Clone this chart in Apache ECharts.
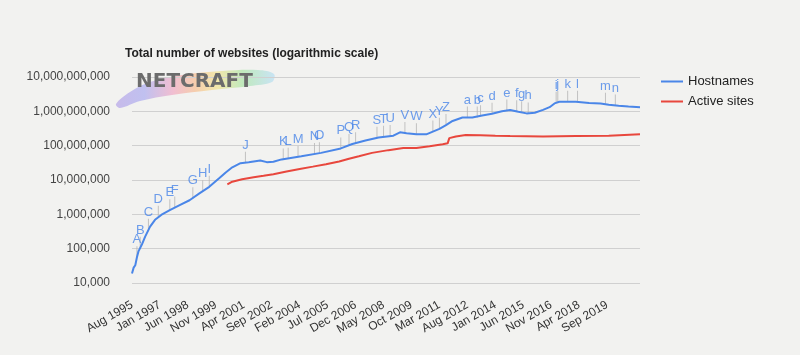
<!DOCTYPE html>
<html>
<head>
<meta charset="utf-8">
<script src="https://cdn.jsdelivr.net/npm/echarts@6/dist/echarts.min.js"></script>
<style>
html,body{margin:0;padding:0;background:#f2f2f0;}
#chart{width:800px;height:355px;}
</style>
</head>
<body>
<div id="chart"></div>
<script>
// ---- data ----
const monthNames = ['Jan','Feb','Mar','Apr','May','Jun','Jul','Aug','Sep','Oct','Nov','Dec'];
const firstMonth = 'Aug 1995';
const lastMonth = 'May 2021';
const lastTickLabel = 'Sep 2019';

const hostDates = ['Aug 1995','Sep 1995','Oct 1995','Nov 1995','Dec 1995','Feb 1996','Apr 1996','Jul 1996','Oct 1996','Feb 1997','Jul 1997','Jan 1998','Jul 1998','Jan 1999','Jul 1999','Jan 2000','May 2000','Sep 2000','Feb 2001','Jul 2001','Feb 2002','Jun 2002','Oct 2002','Mar 2003','Mar 2004','Mar 2005','Mar 2006','Oct 2006','Jun 2007','Feb 2008','Nov 2008','Mar 2009','Jul 2009','Jan 2010','Jul 2010','Nov 2010','Mar 2011','Jul 2011','Nov 2011','May 2012','Nov 2012','May 2013','Nov 2013','May 2014','Oct 2014','Mar 2015','Aug 2015','Jan 2016','Jun 2016','Oct 2016','Jan 2017','Apr 2017','Feb 2018','Oct 2018','May 2019','Oct 2019','Apr 2020','Oct 2020','May 2021'];
const hostValues = [19000,28000,33000,56000,85000,132000,224000,437000,692000,977000,1320000,1860000,2570000,4070000,6310000,11200000,16600000,23400000,30900000,33100000,37200000,33100000,33900000,39800000,49000000,61700000,83200000,112000000,141000000,174000000,195000000,245000000,229000000,214000000,214000000,257000000,309000000,398000000,525000000,661000000,661000000,759000000,851000000,1000000000,1100000000,977000000,871000000,912000000,1100000000,1320000000,1700000000,1900000000,1900000000,1740000000,1700000000,1550000000,1450000000,1380000000,1320000000];

const activeDates = ['Jun 2000','Sep 2000','Mar 2001','Oct 2001','Apr 2002','Oct 2002','Jun 2003','Feb 2004','Oct 2004','Jun 2005','Feb 2006','Aug 2006','Feb 2007','Oct 2007','Aug 2008','May 2009','Jan 2010','Sep 2010','May 2011','Aug 2011','Sep 2011','Jan 2012','Jul 2012','Apr 2013','Jan 2014','Oct 2014','Jun 2016','Feb 2018','Oct 2019','May 2021'];
const activeValues = [7400000,8900000,10500000,12000000,13200000,14800000,17800000,20900000,24500000,28800000,34700000,41700000,49000000,61700000,74100000,85100000,85100000,95500000,110000000,117000000,166000000,186000000,204000000,200000000,195000000,191000000,186000000,191000000,195000000,214000000];

const noteLetters = ['A','B','C','D','E','F','G','H','I','J','K','L','M','N','O','P','Q','R','S','T','U','V','W','X','Y','Z','a','b','c','d','e','f','g','h','i','j','k','l','m','n'];
const noteDates = ['Nov 1995','Jan 1996','Jun 1996','Dec 1996','Jul 1997','Oct 1997','Sep 1998','Mar 1999','Jul 1999','May 2001','Apr 2003','Jul 2003','Jan 2004','Nov 2004','Feb 2005','Mar 2006','Aug 2006','Dec 2006','Jan 2008','May 2008','Sep 2008','Jun 2009','Jan 2010','Nov 2010','Mar 2011','Jul 2011','Aug 2012','Feb 2013','Apr 2013','Nov 2013','Aug 2014','Feb 2015','May 2015','Sep 2015','Feb 2017','Mar 2017','Sep 2017','Mar 2018','Aug 2019','Feb 2020'];
const noteValues = [56000,107000,355000,851000,1320000,1580000,2950000,4680000,6310000,31600000,39800000,41700000,46800000,57500000,60300000,83200000,105000000,117000000,170000000,182000000,191000000,234000000,214000000,257000000,309000000,398000000,661000000,661000000,724000000,851000000,1050000000,1000000000,933000000,871000000,1780000000,1860000000,1900000000,1900000000,1660000000,1480000000];

const yTickValues = [10000,100000,1000000,10000000,100000000,1000000000,10000000000];

// monthly category axis
function buildMonths(first, last){
  const [fm, fy] = first.split(' ');
  const [lm, ly] = last.split(' ');
  let m = monthNames.indexOf(fm), y = +fy;
  const endM = monthNames.indexOf(lm), endY = +ly;
  const out = [];
  while (y < endY || (y === endY && m <= endM)) {
    out.push(monthNames[m] + ' ' + y);
    m++; if (m > 11) { m = 0; y++; }
  }
  return out;
}
const months = buildMonths(firstMonth, lastMonth);
const lastTickIdx = months.indexOf(lastTickLabel);

const BLUE = '#4a86e8';
const RED = '#e8473d';

const chart = echarts.init(document.getElementById('chart'));
chart.setOption({
  animation: false,
  backgroundColor: '#f2f2f0',
  textStyle: { fontFamily: 'Liberation Sans, Arial, sans-serif' },
  title: {
    text: 'Total number of websites (logarithmic scale)',
    left: 120, top: 43,
    textStyle: { fontSize: 12, fontWeight: 'bold', color: '#222', fontFamily: 'Liberation Sans, Arial, sans-serif' }
  },
  legend: {
    orient: 'vertical',
    left: 656, top: 70,
    itemGap: 7,
    icon: 'rect',
    itemWidth: 22, itemHeight: 2,
    textStyle: { fontSize: 13, color: '#222' },
    data: ['Hostnames', 'Active sites']
  },
  graphic: [
    {
      type: 'polygon', z: 0, silent: true,
      shape: {
        smooth: 0.35,
        points: [[116,104],[130,92],[150,82],[182,75],[222,71],[258,70],[274,74],[272,82],[250,86],[212,90],[172,95],[140,101],[120,108]]
      },
      style: {
        opacity: 0.5,
        fill: {
          type: 'linear', x: 0, y: 0, x2: 1, y2: 0,
          colorStops: [
            { offset: 0, color: '#9d84e4' },
            { offset: 0.18, color: '#8e8ff0' },
            { offset: 0.36, color: '#f08ab2' },
            { offset: 0.5, color: '#f8a86a' },
            { offset: 0.64, color: '#f3dd66' },
            { offset: 0.8, color: '#8ee08a' },
            { offset: 1, color: '#a0d6f8' }
          ]
        }
      }
    },
    {
      type: 'text', z: 1, silent: true, left: 136, top: 72,
      style: { text: 'NETCRAFT', fill: '#6c6c6c', font: 'bold 20px "DejaVu Sans", sans-serif' }
    }
  ],
  grid: { left: 132, right: 160, top: 77, bottom: 72 },
  xAxis: {
    type: 'category',
    data: months,
    boundaryGap: false,
    axisLine: { show: false },
    axisTick: { show: false },
    splitLine: { show: false },
    axisLabel: {
      interval: (idx) => idx % 17 === 0 && idx <= lastTickIdx,
      rotate: 30, margin: 21, fontSize: 12, color: '#333'
    }
  },
  yAxis: {
    type: 'log',
    logBase: 10,
    min: yTickValues[0],
    max: yTickValues[yTickValues.length - 1],
    axisLine: { show: false },
    axisTick: { show: false },
    splitLine: { lineStyle: { color: '#d0d0d0', width: 1 } },
    axisLabel: {
      margin: 22, fontSize: 12, color: '#444',
      formatter: v => Math.round(v).toLocaleString('en-US')
    }
  },
  series: [
    {
      name: 'Hostnames', type: 'line', showSymbol: false, symbol: 'none',
      color: BLUE, lineStyle: { width: 2, color: BLUE }, z: 3,
      data: hostDates.map((d, i) => [d, hostValues[i]])
    },
    {
      name: 'Active sites', type: 'line', showSymbol: false, symbol: 'none',
      color: RED, lineStyle: { width: 2, color: RED }, z: 3,
      data: activeDates.map((d, i) => [d, activeValues[i]])
    },
    {
      name: 'notes', type: 'scatter', silent: true, z: 2,
      symbol: 'rect', symbolSize: [1, 11], symbolOffset: [0, -5.5],
      itemStyle: { color: '#b5b5b5' },
      label: {
        show: true, position: 'top', distance: 0,
        formatter: p => p.data[2],
        color: BLUE, fontSize: 13
      },
      data: noteDates.map((d, i) => [d, noteValues[i], noteLetters[i]])
    }
  ]
});
</script>
</body>
</html>
